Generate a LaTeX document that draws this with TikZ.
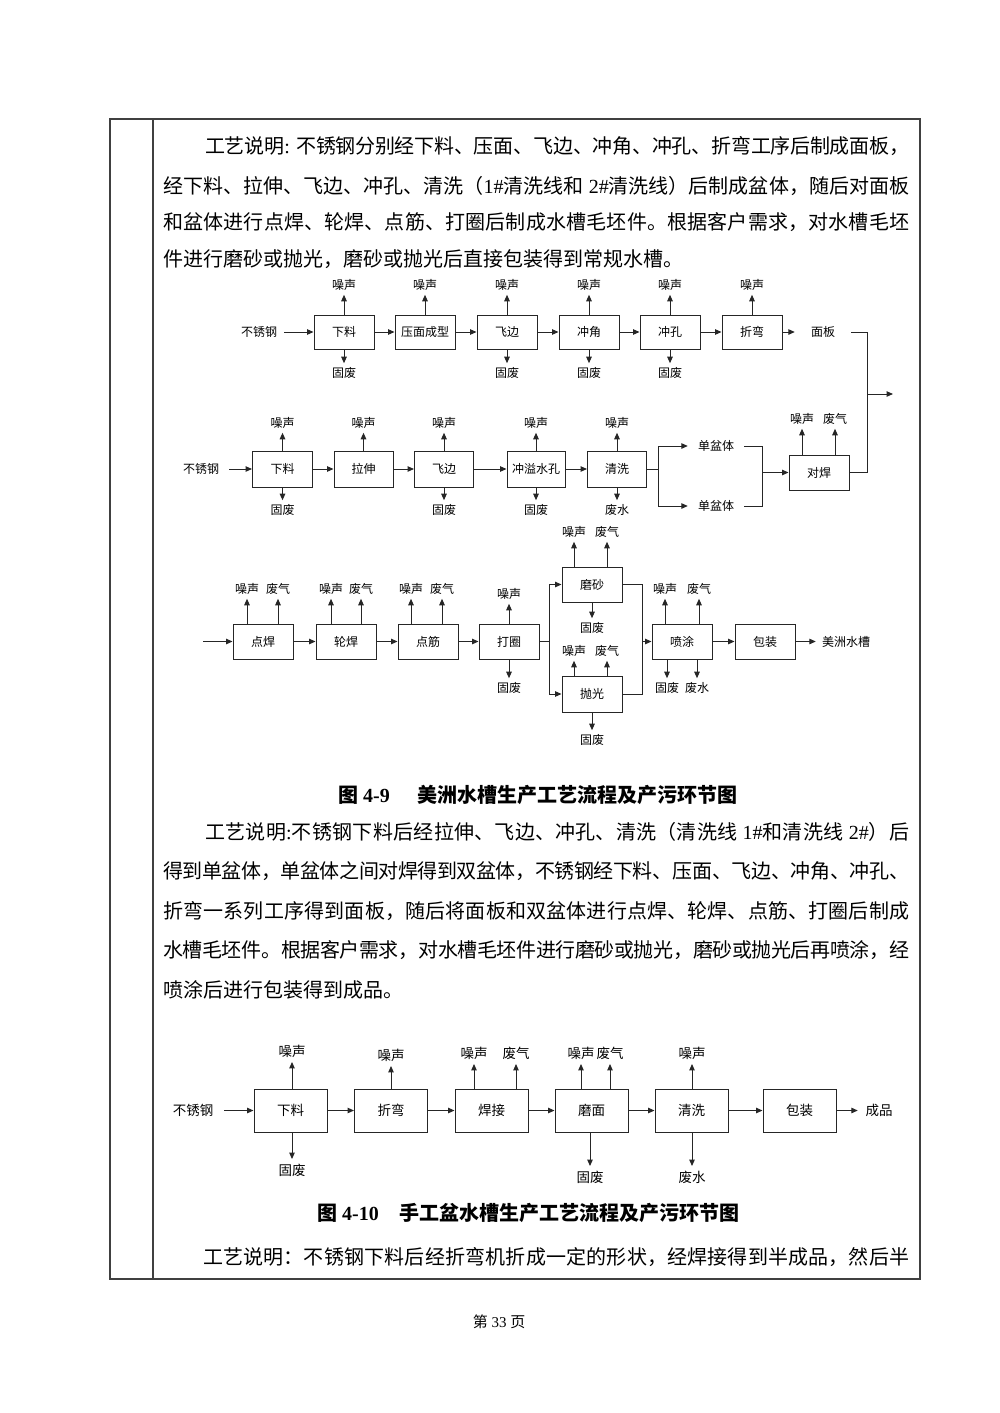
\documentclass[tikz,border=0pt]{standalone}
\usepackage{fontspec}
\setmainfont{Liberation Serif}
\newfontfamily\cjk{Noto Sans CJK SC}
\usetikzlibrary{arrows.meta}
\XeTeXlinebreaklocale "zh"
\XeTeXlinebreakskip=0pt plus 3pt minus 1.5pt
\colorlet{ln}{black!85}
\newcommand\bodyf{\cjk\fontsize{20}{24}\selectfont}
\newcommand\capf{\cjk\bfseries\fontsize{20}{24}\selectfont}
\newcommand\dfa{\cjk\fontsize{12}{14}\selectfont}
\newcommand\dfb{\cjk\fontsize{13.5}{16}\selectfont}
\newcommand\jl[1]{\noindent\parfillskip=0pt\relax #1\par}
\newcommand\latn[1]{{\rmfamily #1}}
\tikzset{
  para/.style={anchor=west, inner sep=0pt, font=\bodyf},
  jpara/.style={para, text width=#1, align=justify},
  captxt/.style={anchor=west, inner sep=0pt, font=\capf},
  boxa/.style={draw=ln, line width=1pt, inner sep=0pt, minimum width=60pt, minimum height=35pt, font=\dfa},
  boxb/.style={draw=ln, line width=1pt, inner sep=0pt, minimum width=73pt, minimum height=43pt, font=\dfb},
  la/.style={inner xsep=1pt, inner ysep=4pt, font=\dfa},
  lb/.style={inner xsep=1pt, inner ysep=4.5pt, font=\dfb},
  arr/.style={draw=ln, line width=1pt, -{Triangle[length=6.5pt,width=5.5pt]}},
  wire/.style={draw=ln, line width=1pt},
  frame/.style={draw=black!75, line width=1.3pt},
}
\begin{document}
\begin{tikzpicture}[x=1pt,y=-1pt]
\useasboundingbox (0,0) rectangle (1000,1413);
\fill[white] (0,0) rectangle (1000,1413);
% table frame
\draw[frame] (110,119) rectangle (920,1279);
\draw[frame] (153,119) -- (153,1279);

% paragraph 1
\node[jpara=704pt] (p1a) at (205,146) {\jl{工艺说明\latn{: }不锈钢分别经下料、压面、飞边、冲角、冲孔、折弯工序后制成面板，}};
\node[jpara=746pt] (p1b) at (163,186) {\jl{经下料、拉伸、飞边、冲孔、清洗（\latn{1\#}清洗线和\latn{ 2\#}清洗线）后制成盆体，随后对面板}};
\node[jpara=746pt] (p1c) at (163,222) {\jl{和盆体进行点焊、轮焊、点筋、打圈后制成水槽毛坯件。根据客户需求，对水槽毛坯}};
\node[para] (p1d) at (163,259) {件进行磨砂或抛光，磨砂或抛光后直接包装得到常规水槽。};

% ---------- diagram 4-9, row 1 ----------
\node[la, inner xsep=7pt] (s1) at (259,332) {不锈钢};
\node[boxa, minimum height=34pt] (a1) at (344,332) {下料};
\node[boxa, minimum height=34pt] (a2) at (425,332) {压面成型};
\node[boxa, minimum height=34pt] (a3) at (507,332) {飞边};
\node[boxa, minimum height=34pt] (a4) at (589,332) {冲角};
\node[boxa, minimum height=34pt] (a5) at (670,332) {冲孔};
\node[boxa, minimum height=34pt] (a6) at (752,332) {折弯};
\node[la, inner xsep=16pt] (mb) at (823,332) {面板};
\draw[arr] (s1.east) -- (a1.west);
\draw[arr] (a1.east) -- (a2.west);
\draw[arr] (a2.east) -- (a3.west);
\draw[arr] (a3.east) -- (a4.west);
\draw[arr] (a4.east) -- (a5.west);
\draw[arr] (a5.east) -- (a6.west);
\draw[arr] (a6.east) -- (mb.west);
\foreach \n/\x in {a1/344,a2/425,a3/507,a4/589,a5/670,a6/752}{
  \node[la] (n\n) at (\x,285) {噪声};
  \draw[arr] (\n.north) -- (n\n.south);
}
\foreach \n/\x in {a1/344,a3/507,a4/589,a5/670}{
  \node[la] (w\n) at (\x,373) {固废};
  \draw[arr] (\n.south) -- (w\n.north);
}

% ---------- row 2 ----------
\node[la, inner xsep=10pt] (s2) at (201,469) {不锈钢};
\node[boxa, minimum width=60pt, minimum height=36pt] (b1) at (282.5,469) {下料};
\node[boxa, minimum width=59pt, minimum height=36pt] (b2) at (363.5,469) {拉伸};
\node[boxa, minimum width=59pt, minimum height=36pt] (b3) at (444,469) {飞边};
\node[boxa, minimum width=58pt, minimum height=36pt] (b4) at (536,469) {冲溢水孔};
\node[boxa, minimum width=59pt, minimum height=36pt] (b5) at (617,469) {清洗};
\draw[arr] (s2.east) -- (b1.west);
\draw[arr] (b1.east) -- (b2.west);
\draw[arr] (b2.east) -- (b3.west);
\draw[arr] (b3.east) -- (b4.west);
\draw[arr] (b4.east) -- (b5.west);
\foreach \n/\x in {b1/282.5,b2/363.5,b3/444,b4/536,b5/617}{
  \node[la] (n\n) at (\x,423) {噪声};
  \draw[arr] (\n.north) -- (n\n.south);
}
\foreach \n/\x in {b1/282.5,b3/444,b4/536}{
  \node[la] (w\n) at (\x,510) {固废};
  \draw[arr] (\n.south) -- (w\n.north);
}
\node[la] (wb5) at (617,510) {废水};
\draw[arr] (b5.south) -- (wb5.north);
\coordinate (j1) at (658,469);
\node[la, inner xsep=10pt] (dp1) at (716,446) {单盆体};
\node[la, inner xsep=10pt] (dp2) at (716,506) {单盆体};
\draw[wire] (b5.east) -- (j1);
\draw[arr] (j1) |- (dp1.west);
\draw[arr] (j1) |- (dp2.west);
\coordinate (j2) at (762,472.5);
\node[boxa] (dh) at (819,472.5) {对焊};
\draw[wire] (dp1.east) -| (j2);
\draw[wire] (dp2.east) -| (j2);
\draw[arr] (j2) -- (dh.west);
\node[la] (ndh) at (802,419) {噪声};
\node[la] (gdh) at (835,419) {废气};
\draw[arr] (ndh.south |- dh.north) -- (ndh.south);
\draw[arr] (gdh.south |- dh.north) -- (gdh.south);
% bracket joining 面板 and 对焊
\coordinate (jb) at (867,394);
\coordinate (out1) at (893,394);
\draw[wire] (mb.east) -| (jb);
\draw[wire] (dh.east) -| (jb);
\draw[arr] (jb) -- (out1);

% ---------- row 3 ----------
\coordinate (in3) at (203,641.5);
\node[boxa] (c1) at (263,641.5) {点焊};
\node[boxa] (c2) at (346,641.5) {轮焊};
\node[boxa] (c3) at (428,641.5) {点筋};
\node[boxa] (c4) at (509,641.5) {打圈};
\node[boxa] (ms) at (592,584.5) {磨砂};
\node[boxa, minimum height=36pt] (pgb) at (592,694) {抛光};
\node[boxa] (pt) at (682,641.5) {喷涂};
\node[boxa] (bz) at (765,641.5) {包装};
\node[la, inner xsep=6pt] (mz) at (846,641.5) {美洲水槽};
\coordinate (j3) at (549,641.5);
\coordinate (j4) at (642,641.5);
\draw[arr] (in3) -- (c1.west);
\draw[arr] (c1.east) -- (c2.west);
\draw[arr] (c2.east) -- (c3.west);
\draw[arr] (c3.east) -- (c4.west);
\draw[wire] (c4.east) -- (j3);
\draw[arr] (j3) |- (ms.west);
\draw[arr] (j3) |- (pgb.west);
\draw[wire] (ms.east) -| (j4);
\draw[wire] (pgb.east) -| (j4);
\draw[arr] (j4) -- (pt.west);
\draw[arr] (pt.east) -- (bz.west);
\draw[arr] (bz.east) -- (mz.west);
\foreach \n/\xa/\xb in {c1/247/278,c2/331/361,c3/411/442,pt/665/699}{
  \node[la] (n\n) at (\xa,589) {噪声};
  \node[la] (g\n) at (\xb,589) {废气};
  \draw[arr] (n\n.south |- \n.north) -- (n\n.south);
  \draw[arr] (g\n.south |- \n.north) -- (g\n.south);
}
\node[la] (nc4) at (509,594) {噪声};
\draw[arr] (c4.north) -- (nc4.south);
\node[la] (wc4) at (509,688) {固废};
\draw[arr] (c4.south) -- (wc4.north);
\node[la] (nms) at (574,532) {噪声};
\node[la] (gms) at (607,532) {废气};
\draw[arr] (nms.south |- ms.north) -- (nms.south);
\draw[arr] (gms.south |- ms.north) -- (gms.south);
\node[la] (wms) at (592,628) {固废};
\draw[arr] (ms.south) -- (wms.north);
\node[la] (npg) at (574,651) {噪声};
\node[la] (gpg) at (607,651) {废气};
\draw[arr] (npg.south |- pgb.north) -- (npg.south);
\draw[arr] (gpg.south |- pgb.north) -- (gpg.south);
\node[la] (wpg) at (592,740) {固废};
\draw[arr] (pgb.south) -- (wpg.north);
\node[la] (wpt) at (667,688) {固废};
\node[la] (spt) at (697,688) {废水};
\draw[arr] (wpt.north |- pt.south) -- (wpt.north);
\draw[arr] (spt.north |- pt.south) -- (spt.north);

% caption 1
\node[captxt] (cap1a) at (338,795) {图\latn{ 4-9}};
\node[captxt] (cap1b) at (417,795) {美洲水槽生产工艺流程及产污环节图};

% paragraph 2
\node[jpara=704pt] (p2a) at (205,832) {\jl{工艺说明\latn{:}不锈钢下料后经拉伸、飞边、冲孔、清洗（清洗线\latn{ 1\#}和清洗线\latn{ 2\#}）后}};
\node[jpara=746pt] (p2b) at (163,871) {\jl{得到单盆体，单盆体之间对焊得到双盆体，不锈钢经下料、压面、飞边、冲角、冲孔、}};
\node[jpara=746pt] (p2c) at (163,911) {\jl{折弯一系列工序得到面板，随后将面板和双盆体进行点焊、轮焊、点筋、打圈后制成}};
\node[jpara=746pt] (p2d) at (163,950) {\jl{水槽毛坯件。根据客户需求，对水槽毛坯件进行磨砂或抛光，磨砂或抛光后再喷涂，经}};
\node[para] (p2e) at (163,990) {喷涂后进行包装得到成品。};

% ---------- diagram 4-10 ----------
\node[lb, inner xsep=11pt] (s4) at (193,1110.5) {不锈钢};
\node[boxb] (d1) at (290.5,1110.5) {下料};
\node[boxb] (d2) at (391,1110.5) {折弯};
\node[boxb] (d3) at (491.5,1110.5) {焊接};
\node[boxb] (d4) at (591.5,1110.5) {磨面};
\node[boxb] (d5) at (691.5,1110.5) {清洗};
\node[boxb] (d6) at (799.5,1110.5) {包装};
\node[lb, inner xsep=7.5pt] (cp) at (879,1110.5) {成品};
\draw[arr] (s4.east) -- (d1.west);
\draw[arr] (d1.east) -- (d2.west);
\draw[arr] (d2.east) -- (d3.west);
\draw[arr] (d3.east) -- (d4.west);
\draw[arr] (d4.east) -- (d5.west);
\draw[arr] (d5.east) -- (d6.west);
\draw[arr] (d6.east) -- (cp.west);
\node[lb] (nd1) at (292,1051) {噪声};
\node[lb] (nd2) at (391,1055) {噪声};
\node[lb] (nd3) at (474,1053) {噪声};
\node[lb] (gd3) at (516,1053) {废气};
\node[lb] (nd4) at (581,1053) {噪声};
\node[lb] (gd4) at (610,1053) {废气};
\node[lb] (nd5) at (692,1053) {噪声};
\draw[arr] (nd1.south |- d1.north) -- (nd1.south);
\draw[arr] (nd2.south |- d2.north) -- (nd2.south);
\draw[arr] (nd3.south |- d3.north) -- (nd3.south);
\draw[arr] (gd3.south |- d3.north) -- (gd3.south);
\draw[arr] (nd4.south |- d4.north) -- (nd4.south);
\draw[arr] (gd4.south |- d4.north) -- (gd4.south);
\draw[arr] (nd5.south |- d5.north) -- (nd5.south);
\node[lb] (wd1) at (292,1170) {固废};
\node[lb] (wd4) at (590,1177) {固废};
\node[lb] (sd5) at (692,1177) {废水};
\draw[arr] (wd1.north |- d1.south) -- (wd1.north);
\draw[arr] (wd4.north |- d4.south) -- (wd4.north);
\draw[arr] (sd5.north |- d5.south) -- (sd5.north);

% caption 2
\node[captxt] (cap2a) at (317,1213) {图\latn{ 4-10}};
\node[captxt] (cap2b) at (399,1213) {手工盆水槽生产工艺流程及产污环节图};

% last line
\node[jpara=706pt] (p3a) at (203,1257) {\jl{工艺说明：不锈钢下料后经折弯机折成一定的形状，经焊接得到半成品，然后半}};

% page number
\node[font=\cjk\fontsize{15}{18}\selectfont, inner sep=0pt] (pageno) at (499,1322) {第\latn{ 33 }页};
\end{tikzpicture}
\end{document}
